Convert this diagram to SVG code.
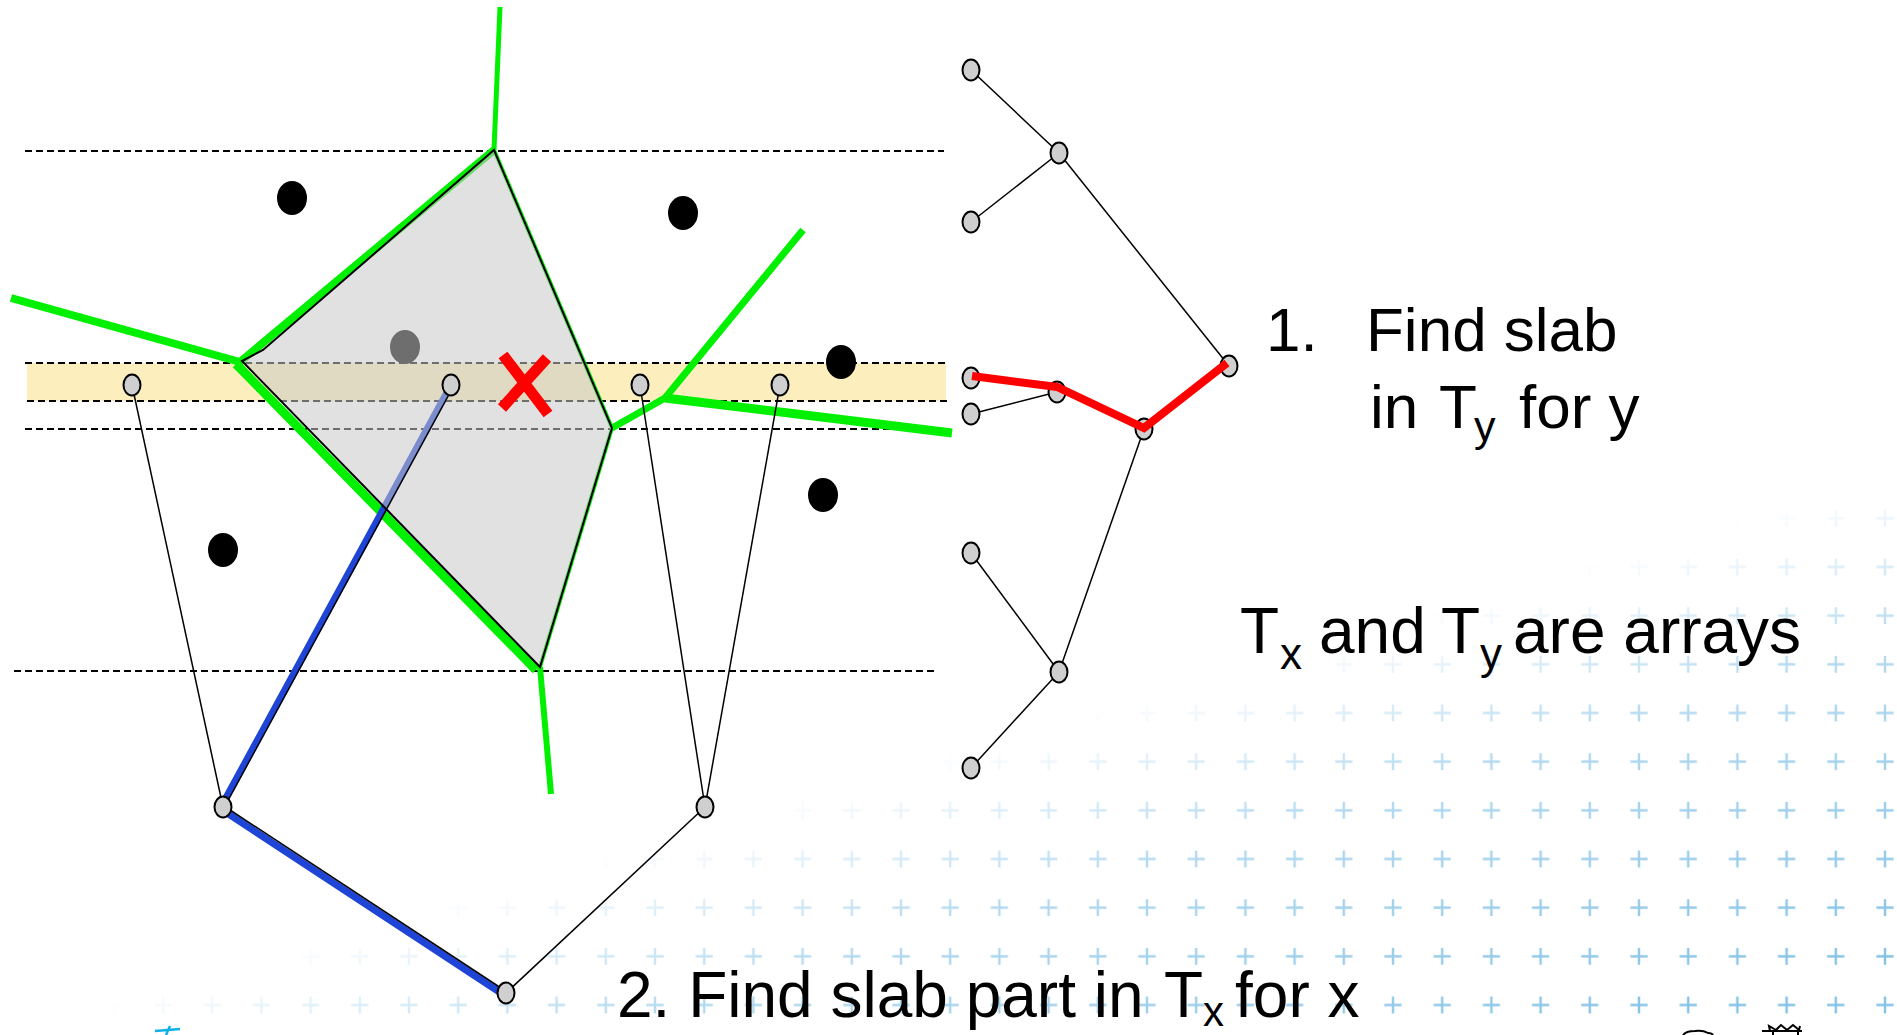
<svg xmlns="http://www.w3.org/2000/svg" width="1897" height="1035" viewBox="0 0 1897 1035">
<defs>
<style>
.dash{stroke:#000;stroke-width:2;stroke-dasharray:7 4;fill:none}
.g{stroke:#00f000;fill:none;stroke-linejoin:round;stroke-linecap:butt}
.e{stroke:#000;stroke-width:1.5;fill:none}
.n{fill:#cfcfcf;stroke:#000;stroke-width:2}
.dot{fill:#000}
.t{font-family:"Liberation Sans",Arial,sans-serif;fill:#000}
.blue{stroke:#1f45d6;stroke-width:7;fill:none;stroke-linecap:round}
</style>
<pattern id="plus" patternUnits="userSpaceOnUse" x="138.4" y="980.67" width="49.2" height="48.67">
<path d="M16 24.33H33.2M24.6 16V32.7" stroke="#84c2e6" stroke-width="2.4"/>
</pattern>
<linearGradient id="fade" gradientUnits="userSpaceOnUse" x1="281" y1="949" x2="412" y2="1391">
<stop offset="0" stop-color="#000"/><stop offset="0.35" stop-color="#999"/><stop offset="1" stop-color="#fff"/>
</linearGradient>
<mask id="m"><rect width="1897" height="1035" fill="url(#fade)"/></mask>
</defs>
<rect width="1897" height="1035" fill="#fff"/>
<rect id="background-crosses" width="1897" height="1035" fill="url(#plus)" mask="url(#m)"/>

<g id="slab-band">
<rect x="27" y="363" width="919" height="38" fill="#fcefbd"/>
</g>
<g id="slab-lines">
<line class="dash" x1="25" y1="151" x2="944" y2="151"/>
<line class="dash" x1="25" y1="363" x2="948" y2="363"/>
<line class="dash" x1="27" y1="401" x2="948" y2="401"/>
<line class="dash" x1="25" y1="429" x2="948" y2="429"/>
<line class="dash" x1="14" y1="671" x2="936" y2="671"/>
</g>

<g id="voronoi-edges">
<path class="g" stroke-width="5" d="M500 7 L494 150"/>
<path class="g" stroke-width="8" d="M11 298 L240 362"/>
<path class="g" stroke-width="8" d="M240 362 L494 150"/>
<path class="g" stroke-width="4" d="M494 150 L612 428 L540 667"/>
<path class="g" stroke-width="9" d="M236 364 L536 670"/>
<path class="g" stroke-width="6" d="M540 667 L551 794"/>
<path class="g" stroke-width="7" d="M612 428 L665 398 L803 230"/>
<path class="g" stroke-width="9" d="M665 398 L952 433"/>
</g>

<g id="sites">
<ellipse class="dot" cx="292" cy="198" rx="15" ry="17"/>
<ellipse class="dot" cx="683" cy="213" rx="15" ry="17"/>
<ellipse class="dot" cx="841" cy="362" rx="15" ry="17"/>
<ellipse class="dot" cx="823" cy="495" rx="15" ry="17"/>
<ellipse class="dot" cx="223" cy="550" rx="15" ry="17"/>
<ellipse class="dot" cx="405" cy="347" rx="15" ry="17"/>
</g>

<g id="query-path-blue">
<line class="blue" x1="450" y1="387" x2="221" y2="807"/>
<line class="blue" x1="221" y1="809" x2="504" y2="995"/>
</g>

<g id="voronoi-cell">
<path d="M494 150 L612 428 L540 667 L242 361 L263 350 Z" fill="#c8c8c8" fill-opacity="0.55" stroke="#000" stroke-width="2" stroke-linejoin="miter"/>
</g>

<g id="connectors">
<line class="e" x1="132" y1="385" x2="223" y2="807"/>
<line class="e" stroke-width="2.2" x1="453" y1="387" x2="225" y2="806"/>
<line class="e" stroke-width="2.2" x1="224" y1="806" x2="507" y2="992"/>
<line class="e" x1="640" y1="385" x2="705" y2="807"/>
<line class="e" x1="780" y1="385" x2="705" y2="807"/>
<line class="e" x1="705" y1="807" x2="506" y2="993"/>
<line class="e" x1="971" y1="70" x2="1059" y2="153"/>
<line class="e" x1="1059" y1="153" x2="971" y2="222"/>
<line class="e" x1="1059" y1="153" x2="1229" y2="366"/>
<line class="e" x1="1057" y1="392" x2="971" y2="414"/>
<line class="e" x1="1144" y1="429" x2="1059" y2="672"/>
<line class="e" x1="1059" y1="672" x2="971" y2="553"/>
<line class="e" x1="1059" y1="672" x2="971" y2="768"/>
</g>

<g id="nodes">
<g id="n-a"><ellipse class="n" cx="132" cy="385" rx="8.5" ry="10.5"/></g>
<g id="n-b"><ellipse class="n" cx="451" cy="385" rx="8.5" ry="10.5"/></g>
<g id="n-c"><ellipse class="n" cx="640" cy="385" rx="8.5" ry="10.5"/></g>
<g id="n-d"><ellipse class="n" cx="780" cy="385" rx="8.5" ry="10.5"/></g>
<g id="n-e"><ellipse class="n" cx="223" cy="807" rx="8.5" ry="10.5"/></g>
<g id="n-f"><ellipse class="n" cx="705" cy="807" rx="8.5" ry="10.5"/></g>
<g id="n-g"><ellipse class="n" cx="506" cy="993" rx="8.5" ry="10.5"/></g>
<g id="ty-1"><ellipse class="n" cx="971" cy="70" rx="8.5" ry="10.5"/></g>
<g id="ty-2"><ellipse class="n" cx="1059" cy="153" rx="8.5" ry="10.5"/></g>
<g id="ty-3"><ellipse class="n" cx="971" cy="222" rx="8.5" ry="10.5"/></g>
<g id="ty-4"><ellipse class="n" cx="1229" cy="366" rx="8.5" ry="10.5"/></g>
<g id="ty-5"><ellipse class="n" cx="971" cy="378" rx="8.5" ry="10.5"/></g>
<g id="ty-6"><ellipse class="n" cx="1057" cy="392" rx="8.5" ry="10.5"/></g>
<g id="ty-7"><ellipse class="n" cx="971" cy="414" rx="8.5" ry="10.5"/></g>
<g id="ty-8"><ellipse class="n" cx="1144" cy="429" rx="8.5" ry="10.5"/></g>
<g id="ty-9"><ellipse class="n" cx="971" cy="553" rx="8.5" ry="10.5"/></g>
<g id="ty-10"><ellipse class="n" cx="1059" cy="672" rx="8.5" ry="10.5"/></g>
<g id="ty-11"><ellipse class="n" cx="971" cy="768" rx="8.5" ry="10.5"/></g>
</g>

<g id="search-path-red">
<polyline points="972,376 1057,387 1144,428 1227,363" fill="none" stroke="#ff0000" stroke-width="8" stroke-linejoin="miter"/>
</g>

<g id="query-point">
<path d="M503 355 L548 414 M547 358 L502 408" stroke="#ff0000" stroke-width="11" fill="none"/>
</g>

<g id="labels">
<text class="t" font-size="62" x="1266" y="351">1.</text>
<text class="t" font-size="62" x="1366" y="351">Find slab</text>
<text class="t" font-size="62" x="1370" y="428">in <tspan x="1439">T</tspan><tspan x="1474" y="441" font-size="43">y</tspan><tspan x="1519" y="428">for y</tspan></text>
<text class="t" font-size="64" x="1240" y="653">T<tspan x="1280" y="669" font-size="44">x</tspan><tspan x="1319" y="653">and </tspan><tspan x="1441">T</tspan><tspan x="1480" y="669" font-size="44">y</tspan><tspan x="1513" y="653">are arrays</tspan></text>
<text class="t" font-size="64" x="617" y="1017">2. Find slab part in <tspan x="1164">T</tspan><tspan x="1203" y="1026" font-size="42">x</tspan><tspan x="1235" y="1017">for x</tspan></text>
</g>

<g id="footer-marks" fill="none" stroke-width="2">
<path d="M155 1031 L180 1029 M170 1026 L166 1035" stroke="#10b0e8" stroke-width="2.5"/>
<path d="M1683 1035 Q1686 1031 1695 1031 Q1703 1030 1708 1033 Q1712 1033 1713 1035" stroke="#000"/>
<path d="M1762 1031 H1802 M1770 1031 L1769 1026 L1776 1030 L1781 1025 L1787 1030 L1793 1025 L1799 1030 L1800 1026 M1773 1031 V1035 M1798 1031 V1035" stroke="#000"/>
</g>
</svg>
